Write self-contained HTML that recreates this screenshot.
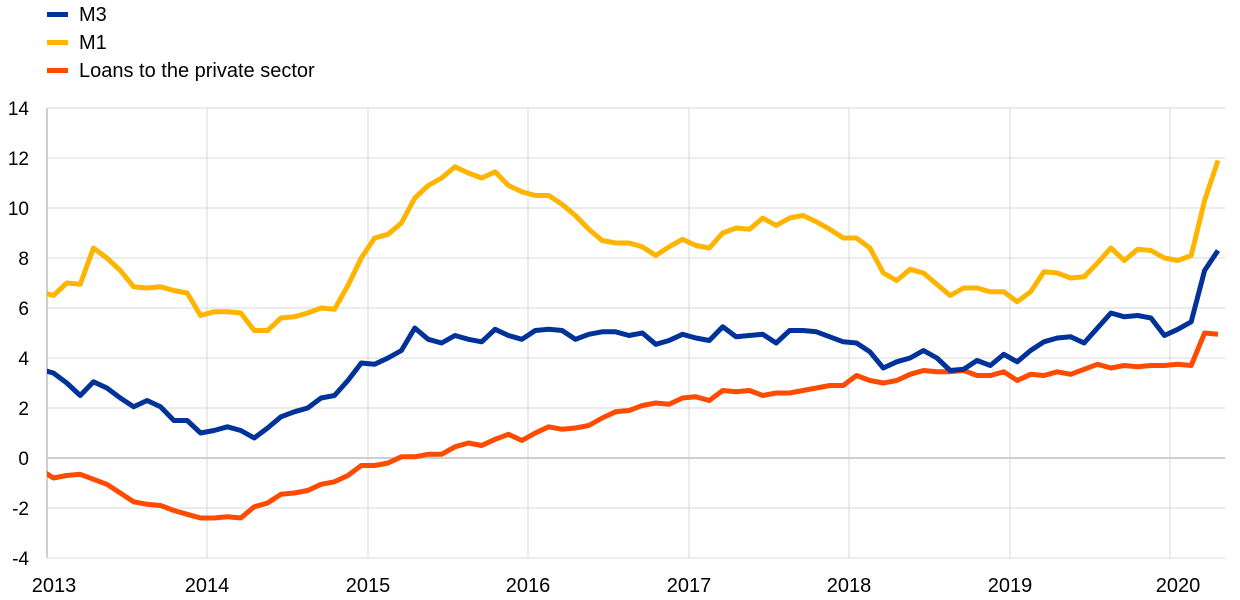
<!DOCTYPE html>
<html><head><meta charset="utf-8"><style>
body{margin:0;background:#fff;}
svg{display:block;font-family:"Liberation Sans",sans-serif;}
</style></head><body>
<svg id="s" width="1240" height="600" xmlns="http://www.w3.org/2000/svg">
<defs><clipPath id="c"><rect x="47" y="0" width="1200" height="600"/></clipPath></defs>
<g stroke="#d9d9d9" stroke-width="1">
<line x1="47" x2="1225" y1="108" y2="108"/><line x1="47" x2="1225" y1="158" y2="158"/>
<line x1="47" x2="1225" y1="208" y2="208"/><line x1="47" x2="1225" y1="258" y2="258"/>
<line x1="47" x2="1225" y1="308" y2="308"/><line x1="47" x2="1225" y1="358" y2="358"/>
<line x1="47" x2="1225" y1="408" y2="408"/><line x1="47" x2="1225" y1="508" y2="508"/>
<line x1="47" x2="1225" y1="558" y2="558"/>
<line x1="207" x2="207" y1="108" y2="558"/><line x1="368" x2="368" y1="108" y2="558"/>
<line x1="528" x2="528" y1="108" y2="558"/><line x1="689" x2="689" y1="108" y2="558"/>
<line x1="849" x2="849" y1="108" y2="558"/><line x1="1010" x2="1010" y1="108" y2="558"/>
<line x1="1170" x2="1170" y1="108" y2="558"/>
</g>
<line x1="47" x2="1225" y1="458" y2="458" stroke="#cfcfcf" stroke-width="2"/>
<line x1="47" x2="47" y1="108" y2="558" stroke="#cfcfcf" stroke-width="2"/>
<g font-size="19" text-anchor="end" fill="#000">
<text x="29" y="115">14</text><text x="29" y="165">12</text><text x="29" y="215">10</text>
<text x="29" y="265">8</text><text x="29" y="315">6</text><text x="29" y="365">4</text>
<text x="29" y="415">2</text><text x="29" y="465">0</text><text x="29" y="515">-2</text>
<text x="29" y="565">-4</text></g>
<g font-size="20" text-anchor="middle" fill="#000">
<text x="54" y="592">2013</text><text x="207" y="592">2014</text><text x="368" y="592">2015</text>
<text x="528" y="592">2016</text><text x="689" y="592">2017</text><text x="849" y="592">2018</text>
<text x="1010" y="592">2019</text><text x="1178" y="592">2020</text></g>
<g font-size="20" fill="#000">
<rect x="47" y="12" width="21" height="5" fill="#003299"/><text x="79" y="21">M3</text>
<rect x="47" y="40" width="21" height="5" fill="#FFB400"/><text x="79" y="49">M1</text>
<rect x="47" y="68" width="21" height="5" fill="#FF4B00"/><text x="79" y="77">Loans to the private sector</text>
</g>
<g id="lines" fill="none" stroke-width="5" stroke-linejoin="round" clip-path="url(#c)"></g>
</svg>
<script>
var m3=[3.55,3.4,3.0,2.5,3.05,2.8,2.4,2.05,2.3,2.05,1.5,1.5,
1.0,1.1,1.25,1.1,0.8,1.2,1.65,1.85,2.0,2.4,2.5,3.1,
3.8,3.75,4.0,4.3,5.2,4.75,4.6,4.9,4.75,4.65,5.15,4.9,
4.75,5.1,5.15,5.1,4.75,4.95,5.05,5.05,4.9,5.0,4.55,4.7,
4.95,4.8,4.7,5.25,4.85,4.9,4.95,4.6,5.1,5.1,5.05,4.85,
4.65,4.6,4.25,3.6,3.85,4.0,4.3,4.0,3.5,3.55,3.9,3.7,
4.15,3.85,4.3,4.65,4.8,4.85,4.6,5.2,5.8,5.65,5.7,5.6,4.9,
5.15,5.45,7.5,8.3];
var m1=[6.65,6.5,7.0,6.95,8.4,8.0,7.5,6.85,6.8,6.85,6.7,6.6,
5.7,5.85,5.85,5.8,5.1,5.1,5.6,5.65,5.8,6.0,5.95,6.9,
8.0,8.8,8.95,9.4,10.4,10.9,11.2,11.65,11.4,11.2,11.45,10.9,
10.65,10.5,10.5,10.15,9.7,9.15,8.7,8.6,8.6,8.45,8.1,8.45,
8.75,8.5,8.4,9.0,9.2,9.15,9.6,9.3,9.6,9.7,9.45,9.15,
8.8,8.8,8.4,7.4,7.1,7.55,7.4,6.95,6.5,6.8,6.8,6.65,
6.65,6.25,6.65,7.45,7.4,7.2,7.25,7.8,8.4,7.9,8.35,8.3,8.0,
7.9,8.1,10.3,11.9];
var ln=[-0.45,-0.8,-0.7,-0.65,-0.85,-1.05,-1.4,-1.75,-1.85,-1.9,-2.1,-2.25,
-2.4,-2.4,-2.35,-2.4,-1.95,-1.8,-1.45,-1.4,-1.3,-1.05,-0.95,-0.7,
-0.3,-0.3,-0.2,0.05,0.05,0.15,0.15,0.45,0.6,0.5,0.75,0.95,
0.7,1.0,1.25,1.15,1.2,1.3,1.6,1.85,1.9,2.1,2.2,2.15,
2.4,2.45,2.3,2.7,2.65,2.7,2.5,2.6,2.6,2.7,2.8,2.9,
2.9,3.3,3.1,3.0,3.1,3.35,3.5,3.45,3.45,3.5,3.3,3.3,
3.45,3.1,3.35,3.3,3.45,3.35,3.55,3.75,3.6,3.7,3.65,3.7,3.7,
3.75,3.7,5.0,4.95];
var g=document.getElementById('lines');
function draw(d,c){var p=d.map(function(v,i){return (40+i*13.386).toFixed(1)+','+(458-v*25).toFixed(1)}).join(' ');
var e=document.createElementNS('http://www.w3.org/2000/svg','polyline');e.setAttribute('points',p);e.setAttribute('stroke',c);g.appendChild(e);}
draw(ln,'#FF4B00');draw(m1,'#FFB400');draw(m3,'#003299');
</script>
</body></html>
